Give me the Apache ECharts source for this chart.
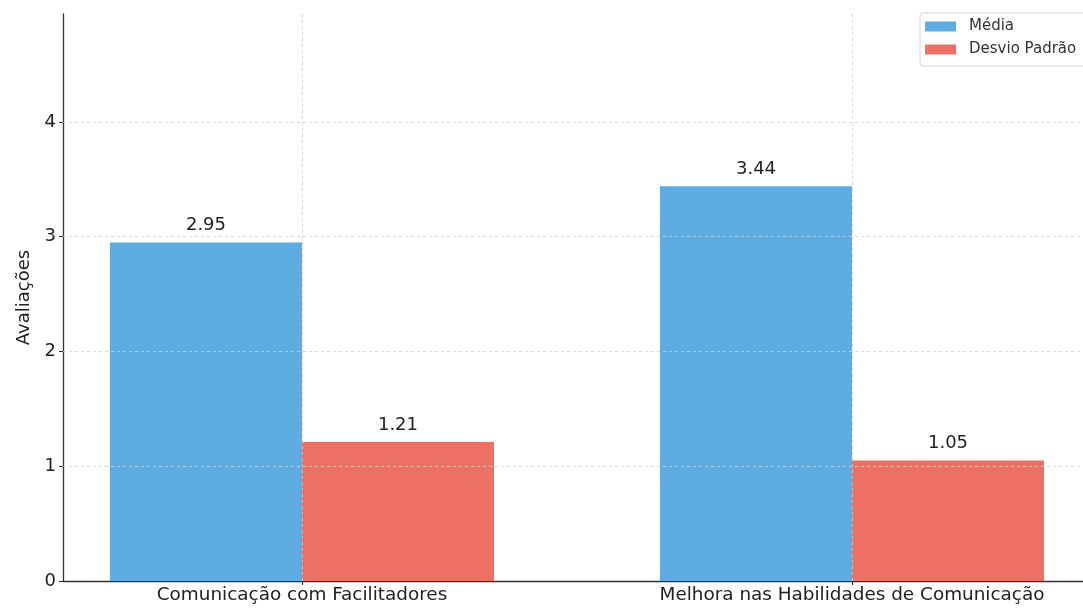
<!DOCTYPE html>
<html>
<head>
<meta charset="utf-8">
<script src="https://cdn.jsdelivr.net/npm/echarts@6/dist/echarts.min.js"></script>
<style>
  html, body { margin: 0; padding: 0; background: #fff; }
  #chart { width: 1083px; height: 608px; }
</style>
</head>
<body>
<div id="chart"></div>
<script>
// Survey ratings: mean and standard deviation per question
const categories = ['Comunicação com Facilitadores', 'Melhora nas Habilidades de Comunicação'];
const mediaValues = [2.95, 3.44];
const desvioValues = [1.21, 1.05];
const yTicks = [0, 1, 2, 3, 4];

const FONT = 'DejaVu Sans';
const TEXT = '#222';
const BLUE = '#5DADE2';
const RED = '#EC7063';

const chart = echarts.init(document.getElementById('chart'), null, { renderer: 'canvas' });

const positions = categories.map((_, i) => i);

const labelOpt = {
  show: true,
  position: 'top',
  distance: 8,
  fontFamily: FONT,
  fontSize: 18,
  color: TEXT,
  formatter: p => p.value[1].toFixed(2)
};

chart.setOption({
  animation: false,
  backgroundColor: '#fff',
  textStyle: { fontFamily: FONT },
  grid: { left: 63, right: 0, top: 14, bottom: 27, containLabel: false },
  legend: {
    orient: 'vertical',
    left: 920,
    top: 13,
    padding: [6, 14, 9, 5],
    itemGap: 8,
    itemWidth: 31,
    itemHeight: 10,
    icon: 'rect',
    borderColor: '#d6d6d6',
    borderWidth: 1,
    borderRadius: 3,
    backgroundColor: 'rgba(255,255,255,0.8)',
    textStyle: { fontFamily: FONT, fontSize: 15, color: '#333', padding: [0, 0, 0, 8] },
    data: ['Média', 'Desvio Padrão']
  },
  xAxis: {
    type: 'value',
    min: -0.4345,
    max: 1.42,
    axisLine: { show: true, onZero: false, lineStyle: { color: '#333', width: 1.3 } },
    axisTick: {
      show: true, length: 4, inside: false,
      customValues: positions,
      lineStyle: { color: '#333' }
    },
    axisLabel: {
      customValues: positions,
      formatter: v => categories[Math.round(v)] || '',
      fontFamily: FONT, fontSize: 18.4, color: TEXT, margin: 5
    },
    splitLine: { show: false }
  },
  yAxis: {
    type: 'value',
    min: 0,
    max: 4.94,
    interval: 1,
    name: 'Avaliações',
    nameLocation: 'middle',
    nameGap: 24,
    nameTextStyle: { fontFamily: FONT, fontSize: 18, color: TEXT },
    axisLine: { show: true, onZero: false, lineStyle: { color: '#333', width: 1.3 } },
    axisTick: {
      show: true, length: 4, inside: false,
      customValues: yTicks,
      lineStyle: { color: '#333' }
    },
    axisLabel: {
      customValues: yTicks,
      fontFamily: FONT, fontSize: 18, color: TEXT, margin: 7
    },
    splitLine: { show: false }
  },
  series: [
    {
      // dashed reference grid drawn underneath the bars
      type: 'line',
      data: [],
      silent: true,
      z: 0,
      markLine: {
        silent: true,
        symbol: 'none',
        label: { show: false },
        lineStyle: { type: [3, 3], color: '#d0d0d0', width: 0.8 },
        data: yTicks.slice(1).map(v => ({ yAxis: v }))
          .concat(positions.map(v => ({ xAxis: v })))
      }
    },
    {
      name: 'Média',
      type: 'bar',
      barWidth: 192,
      barGap: '0%',
      z: 2,
      itemStyle: { color: BLUE },
      label: labelOpt,
      data: positions.map((x, i) => [x, mediaValues[i]])
    },
    {
      name: 'Desvio Padrão',
      type: 'bar',
      barWidth: 192,
      barGap: '0%',
      z: 2,
      itemStyle: { color: RED },
      label: labelOpt,
      data: positions.map((x, i) => [x, desvioValues[i]])
    }
  ]
});
</script>
</body>
</html>
